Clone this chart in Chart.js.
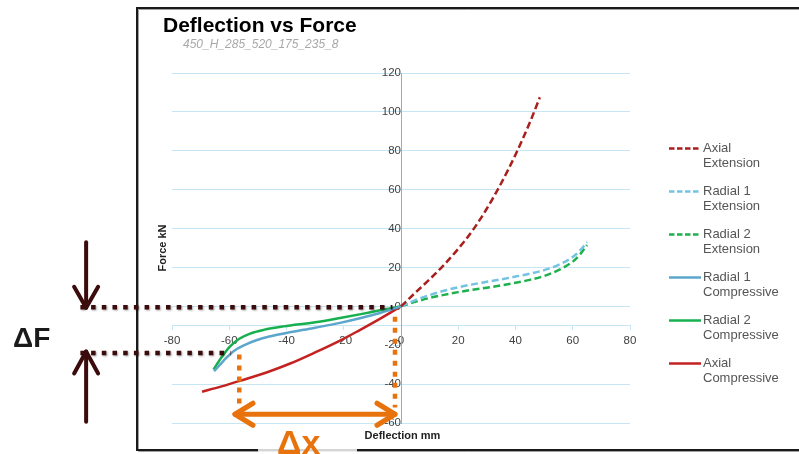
<!DOCTYPE html>
<html>
<head>
<meta charset="utf-8">
<script src="https://cdn.jsdelivr.net/npm/chart.js@4/dist/chart.umd.min.js"></script>
<style>
  html, body { margin: 0; padding: 0; background: #fff; }
  #wrap { width: 799px; height: 454px; position: relative; }
</style>
</head>
<body>
<div id="wrap"><canvas id="c" width="799" height="454"></canvas></div>
<script>
// Series names, split into the two lines shown in the legend
const seriesNames = [
  ['Axial', 'Extension'],
  ['Radial 1', 'Extension'],
  ['Radial 2', 'Extension'],
  ['Radial 1', 'Compressive'],
  ['Radial 2', 'Compressive'],
  ['Axial', 'Compressive']
];

// Extension branch (deflection mm, force kN)
const axialExtDefl   = [0, 5, 10, 15, 20, 25, 30, 35, 40, 45, 48.5];
const axialExtForce  = [0, 7.0, 13.9, 21.3, 29.6, 39, 50.3, 63.3, 78, 94.5, 107.5];

const radialExtDefl  = [0, 5, 10, 15, 20, 25, 30, 35, 40, 45, 50, 55, 60, 62.5, 65];
const radial1ExtForce = [0, 3.2, 5.8, 8.0, 9.8, 11.3, 12.6, 13.9, 15.3, 16.8, 18.6, 21.3, 25.4, 28.6, 33];
const radial2ExtForce = [0, 2.3, 4.3, 5.9, 7.3, 8.5, 9.6, 10.8, 12.1, 13.6, 15.6, 18.6, 23.0, 26.6, 31.5];

// Compressive branch
const radial1CompDefl  = [-65.3, -62, -58.5, -54.5, -50.3, -46, -40, -30, -21.3, -14, -7.3, 0];
const radial1CompForce = [-33.4, -28, -23.1, -19.8, -17.3, -15.5, -13.7, -11, -8.5, -6, -3.4, 0];

const radial2CompDefl  = [-65.5, -62.5, -59.7, -56.5, -52.7, -48, -41, -30, -21.3, -14, -7.3, 0];
const radial2CompForce = [-32.5, -25.8, -20.6, -16.7, -14, -12.1, -10.3, -8.2, -6, -4, -2, 0];

const axialCompDefl  = [-69.5, -63, -56, -47, -38.7, -30, -21.3, -15, -9.7, -5, 0];
const axialCompForce = [-43.9, -41.3, -38.2, -34.0, -29.4, -23.7, -17.6, -12.7, -8.4, -4.4, 0];

// Axis ranges and tick steps
const xTicks = [-80, 80, 20];
const yTicks = [-60, 120, 20];

// Stiffness markup: force step and deflection span (data units)
const deltaFLevels = [0, -24];
const deltaXSpan = [-56.5, -2.1];

const pts = (xs, ys) => xs.map((x, i) => ({ x: x, y: ys[i] }));

const FONT = "'Liberation Sans', Arial, sans-serif";
const GRID = '#c6e6f6';

function series(i, xs, ys, color, dashed) {
  return {
    label: seriesNames[i].join(' '),
    data: pts(xs, ys),
    borderColor: color,
    backgroundColor: color,
    borderWidth: 2.5,
    borderDash: dashed ? [7, 3.5] : [],
    showLine: true,
    pointRadius: 0,
    cubicInterpolationMode: 'monotone',
    fill: false
  };
}

const datasets = [
  series(0, axialExtDefl, axialExtForce, '#a81f1c', true),
  series(1, radialExtDefl, radial1ExtForce, '#74c3e3', true),
  series(2, radialExtDefl, radial2ExtForce, '#1db04c', true),
  series(3, radial1CompDefl, radial1CompForce, '#5ca6cc', false),
  series(4, radial2CompDefl, radial2CompForce, '#17b04f', false),
  series(5, axialCompDefl, axialCompForce, '#c42220', false)
];

function line(ctx, x1, y1, x2, y2) {
  ctx.beginPath(); ctx.moveTo(x1, y1); ctx.lineTo(x2, y2); ctx.stroke();
}

const decor = {
  id: 'decor',
  beforeDraw(chart) {
    const ctx = chart.ctx;
    ctx.save();
    ctx.fillStyle = '#fff';
    ctx.fillRect(0, 0, chart.width, chart.height);

    // slide frame around the chart
    ctx.strokeStyle = '#a0a0a0';
    ctx.lineWidth = 1;
    ctx.beginPath();
    ctx.moveTo(799, 9.5); ctx.lineTo(138.5, 9.5); ctx.lineTo(138.5, 451.5); ctx.lineTo(799, 451.5);
    ctx.stroke();
    ctx.strokeStyle = '#1a1a1a';
    ctx.lineWidth = 2;
    ctx.beginPath();
    ctx.moveTo(799, 8); ctx.lineTo(137, 8); ctx.lineTo(137, 450); ctx.lineTo(799, 450);
    ctx.stroke();

    // titles
    ctx.fillStyle = '#000';
    ctx.font = 'bold 21px ' + FONT;
    ctx.textBaseline = 'alphabetic';
    ctx.textAlign = 'left';
    ctx.fillText('Deflection vs Force', 163, 32);
    ctx.fillStyle = '#a8a8a8';
    ctx.font = 'italic 12px ' + FONT;
    ctx.fillText('450_H_285_520_175_235_8', 183, 48);

    // axis titles
    ctx.fillStyle = '#222';
    ctx.font = 'bold 11px ' + FONT;
    ctx.textAlign = 'center';
    ctx.textBaseline = 'middle';
    ctx.fillText('Deflection mm', 402.5, 436);
    ctx.save();
    ctx.translate(162.5, 248);
    ctx.rotate(-Math.PI / 2);
    ctx.fillText('Force kN', 0, 0);
    ctx.restore();
    ctx.restore();
  },
  afterDraw(chart) {
    const ctx = chart.ctx;
    const xs = chart.scales.x, ys = chart.scales.y;
    const X = v => xs.getPixelForValue(v);
    const Y = v => ys.getPixelForValue(v);
    ctx.save();

    // legend
    ctx.font = '13px ' + FONT;
    ctx.textAlign = 'left';
    ctx.textBaseline = 'middle';
    chart.data.datasets.forEach((ds, i) => {
      const y = 148.5 + i * 43;
      ctx.strokeStyle = ds.borderColor;
      ctx.lineWidth = 2.5;
      ctx.setLineDash(ds.borderDash.length ? [5.5, 2.5] : []);
      line(ctx, 669, y, 701, y);
      ctx.setLineDash([]);
      ctx.fillStyle = '#555';
      ctx.fillText(seriesNames[i][0], 703, y);
      ctx.fillText(seriesNames[i][1], 703, y + 15);
    });

    // ΔF markup
    const maroon = '#3c0b0b';
    const ax = X(-110);
    ctx.save();
    ctx.shadowColor = 'rgba(0,0,0,0.35)';
    ctx.shadowBlur = 2;
    ctx.shadowOffsetX = 1;
    ctx.shadowOffsetY = 1;
    ctx.strokeStyle = maroon;
    ctx.lineWidth = 4.5;
    ctx.setLineDash([4.5, 6.2]);
    line(ctx, X(-112), Y(deltaFLevels[0]) + 1, X(-3), Y(deltaFLevels[0]) + 1);
    line(ctx, X(-112), Y(deltaFLevels[1]), X(-59.5), Y(deltaFLevels[1]));
    ctx.restore();

    ctx.strokeStyle = maroon;
    ctx.lineWidth = 4;
    ctx.lineCap = 'round';
    ctx.lineJoin = 'round';
    ctx.setLineDash([]);
    const topTip = Y(deltaFLevels[0]) + 1.5;
    line(ctx, ax, Y(33), ax, topTip);
    ctx.beginPath();
    ctx.moveTo(ax - 12, topTip - 21); ctx.lineTo(ax, topTip); ctx.lineTo(ax + 12, topTip - 21);
    ctx.stroke();
    const botTip = Y(deltaFLevels[1]) - 1.5;
    line(ctx, ax, Y(-59.3), ax, botTip);
    ctx.beginPath();
    ctx.moveTo(ax - 12, botTip + 22); ctx.lineTo(ax, botTip); ctx.lineTo(ax + 12, botTip + 22);
    ctx.stroke();

    ctx.fillStyle = '#1a1a1a';
    ctx.font = 'bold 28px ' + FONT;
    ctx.textAlign = 'left';
    ctx.textBaseline = 'alphabetic';
    ctx.fillText('ΔF', 13, 346.5);

    // Δx markup
    const orange = '#e8730d';
    ctx.strokeStyle = orange;
    ctx.lineWidth = 4.5;
    ctx.lineCap = 'butt';
    ctx.setLineDash([5, 6]);
    line(ctx, X(deltaXSpan[0]), Y(-24.8), X(deltaXSpan[0]), Y(-52));
    line(ctx, X(deltaXSpan[1]), Y(-5.3), X(deltaXSpan[1]), Y(-52));
    ctx.setLineDash([]);
    ctx.lineWidth = 5;
    ctx.lineCap = 'round';
    const ay = Y(-55.5);
    const l = X(-58), r = X(deltaXSpan[1]);
    line(ctx, l, ay, r, ay);
    ctx.beginPath();
    ctx.moveTo(l + 18, ay - 11); ctx.lineTo(l, ay); ctx.lineTo(l + 18, ay + 11);
    ctx.moveTo(r - 18, ay - 11); ctx.lineTo(r, ay); ctx.lineTo(r - 18, ay + 11);
    ctx.stroke();

    ctx.fillStyle = 'rgba(255,255,255,0.82)';
    ctx.fillRect(258, 428, 99, 26);
    ctx.fillStyle = orange;
    ctx.font = 'bold 34px ' + FONT;
    ctx.fillText('Δx', 277, 453.5);
    ctx.restore();
  }
};

new Chart(document.getElementById('c'), {
  type: 'scatter',
  data: { datasets: datasets },
  options: {
    responsive: false,
    animation: false,
    events: [],
    layout: { padding: { left: 172, right: 169, top: 73, bottom: 31 } },
    plugins: {
      legend: { display: false },
      title: { display: false },
      tooltip: { enabled: false }
    },
    scales: {
      x: {
        type: 'linear',
        min: xTicks[0], max: xTicks[1],
        position: { y: -10 },
        ticks: { stepSize: xTicks[2], color: '#404040', font: { family: FONT, size: 11.5 }, padding: 4, maxRotation: 0 },
        grid: { drawOnChartArea: false, drawTicks: true, tickLength: 4, color: GRID },
        border: { color: GRID, width: 1 }
      },
      y: {
        type: 'linear',
        min: yTicks[0], max: yTicks[1],
        position: { x: 0 },
        ticks: { stepSize: yTicks[2], color: '#404040', font: { family: FONT, size: 11.5 }, padding: 3 },
        grid: {
          color: c => (c.tick && c.tick.value === -20) ? 'rgba(0,0,0,0)' : GRID,
          tickColor: GRID,
          tickLength: 8,
          lineWidth: 1
        },
        border: { color: '#a8a8a8', width: 1 }
      }
    }
  },
  plugins: [decor]
});
</script>
</body>
</html>
